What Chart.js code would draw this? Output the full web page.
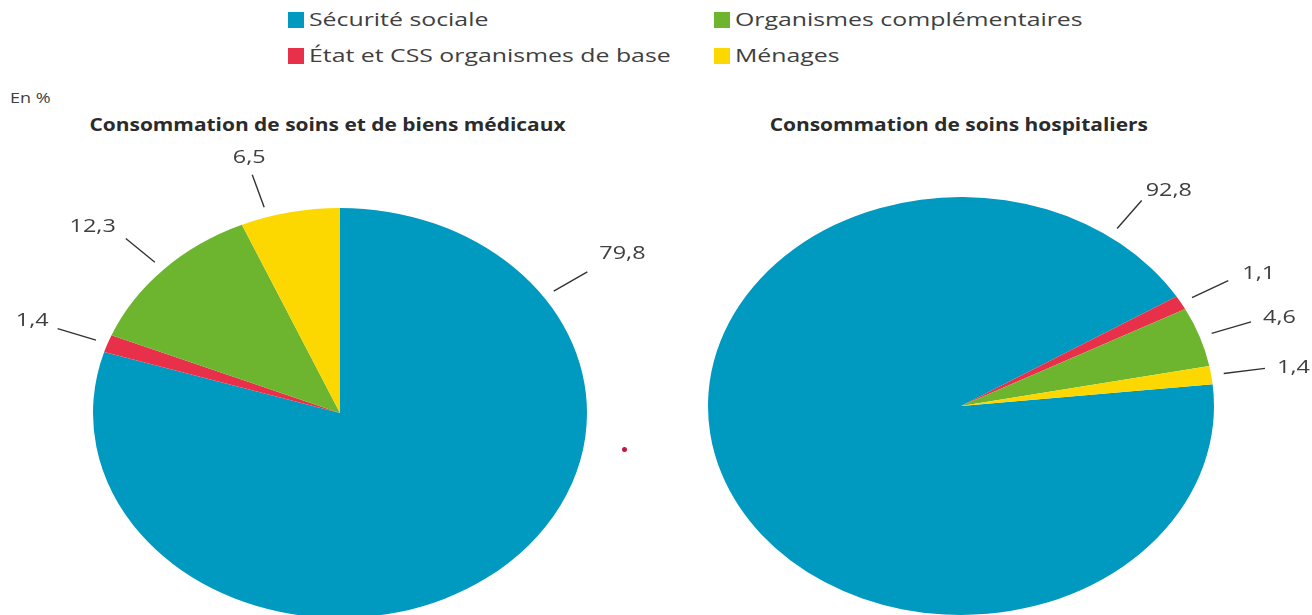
<!DOCTYPE html>
<html lang="fr">
<head>
<meta charset="utf-8">
<script src="https://cdn.jsdelivr.net/npm/chart.js@4.4.1/dist/chart.umd.min.js"></script>
<style>
  html, body { margin: 0; padding: 0; background: #fff; }
  #page { position: relative; width: 1312px; height: 615px; overflow: hidden; font-family: "Open Sans", sans-serif; color: #404040; }
  .leg { position: absolute; font-size: 18px; line-height: 22px; white-space: nowrap; }
  .leg i { display: inline-block; width: 16px; height: 16px; vertical-align: -2px; margin-right: 5px; }
  .leg span { display: inline-block; transform: scaleX(1.38); transform-origin: left center; }
  .unit { position: absolute; left: 10px; top: 87px; font-size: 15px; transform: scaleX(1.2); transform-origin: left center; }
  .title { position: absolute; top: 113px; font-size: 17px; font-weight: 700; color: #2b2b2b; text-align: center; }
  .title span { display: inline-block; transform: scaleX(1.23); transform-origin: center; }
  canvas { position: absolute; top: 0; }
  .dot { position: absolute; left: 622px; top: 447px; width: 5px; height: 5px; border-radius: 50%; background: #c21840; }
</style>
</head>
<body>
<div id="page">
  <div class="leg" style="left:288px; top:8px"><i style="background:#0099c0"></i><span>Sécurité sociale</span></div>
  <div class="leg" style="left:288px; top:44px"><i style="background:#e8304a"></i><span>État et CSS organismes de base</span></div>
  <div class="leg" style="left:714px; top:8px"><i style="background:#6db52e"></i><span>Organismes complémentaires</span></div>
  <div class="leg" style="left:714px; top:44px"><i style="background:#fdd800"></i><span>Ménages</span></div>
  <div class="unit">En %</div>
  <div class="title" style="left:0; width:656px"><span>Consommation de soins et de biens médicaux</span></div>
  <div class="title" style="left:656px; width:606px"><span>Consommation de soins hospitaliers</span></div>
  <canvas id="csbm" width="656" height="630" style="left:0"></canvas>
  <canvas id="hosp" width="656" height="630" style="left:656px"></canvas>
  <div class="dot"></div>
</div>
<script>
// data (en %)
const categories = ['Sécurité sociale', 'État et CSS organismes de base', 'Organismes complémentaires', 'Ménages'];
const csbmValues = [79.8, 1.4, 12.3, 6.5];
const hospValues = [92.8, 1.1, 4.6, 1.4];
const colors = ['#0099c0', '#e8304a', '#6db52e', '#fdd800'];

const fmt = v => String(v).replace('.', ',');

// pies are drawn wider than tall, so stretch the arcs around their centre
const stretchPlugin = {
  id: 'stretch',
  beforeDatasetsDraw(chart, args, opts) {
    const arc = chart.getDatasetMeta(0).data[0];
    const ctx = chart.ctx;
    ctx.save();
    ctx.translate(arc.x, arc.y);
    ctx.scale(opts.sx, 1);
    ctx.translate(-arc.x, -arc.y);
  },
  afterDatasetsDraw(chart) {
    chart.ctx.restore();
  }
};

// value labels with short leader lines
const leaderPlugin = {
  id: 'leaders',
  afterDraw(chart, args, opts) {
    const ctx = chart.ctx;
    const meta = chart.getDatasetMeta(0);
    const vals = chart.data.datasets[0].data;
    ctx.save();
    ctx.strokeStyle = '#333';
    ctx.lineWidth = 1.4;
    ctx.fillStyle = '#404040';
    ctx.font = '18px "Open Sans", sans-serif';
    ctx.textBaseline = 'middle';
    meta.data.forEach((arc, i) => {
      const lay = opts.layout[i];
      const a = lay.angle != null ? (lay.angle - 90) * Math.PI / 180 : (arc.startAngle + arc.endAngle) / 2;
      const rx = arc.outerRadius * opts.sx, ry = arc.outerRadius;
      const pt = r => [arc.x + Math.cos(a) * rx * r, arc.y + Math.sin(a) * ry * r];
      const [x1, y1] = pt(1.05);
      const [x2, y2] = pt(1.215);
      ctx.beginPath();
      ctx.moveTo(x1, y1);
      ctx.lineTo(x2, y2);
      ctx.stroke();
      ctx.save();
      ctx.translate(x2 + lay.dx, y2 + lay.dy);
      ctx.scale(1.3, 1);
      ctx.textAlign = lay.align;
      ctx.fillText(fmt(vals[i]), 0, 0);
      ctx.restore();
    });
    ctx.restore();
  }
};

function makePie(id, values, rotation, padding, sx, layout) {
  return new Chart(document.getElementById(id), {
    type: 'pie',
    data: {
      labels: categories,
      datasets: [{ data: values, backgroundColor: colors, borderWidth: 0 }]
    },
    options: {
      responsive: false,
      animation: false,
      rotation: rotation,
      layout: { padding: padding },
      plugins: {
        legend: { display: false },
        tooltip: { enabled: false },
        stretch: { sx: sx },
        leaders: { sx: sx, layout: layout }
      },
      events: []
    },
    plugins: [stretchPlugin, leaderPlugin]
  });
}

makePie('csbm', csbmValues, 0, { left: 135, right: 111, top: 208, bottom: 12 }, 247 / 205, [
  { angle: 55.5, dx: 12, dy: -18, align: 'left' },
  { dx: -9, dy: -8, align: 'right' },
  { dx: -10, dy: -12, align: 'right' },
  { angle: -17, dx: -3, dy: -17, align: 'center' }
]);

makePie('hosp', hospValues, 84, { left: 96, right: 142, top: 197, bottom: 15 }, 253 / 209, [
  { angle: 36, dx: 4, dy: -10, align: 'left' },
  { dx: 14, dy: -7, align: 'left' },
  { dx: 12, dy: -4, align: 'left' },
  { dx: 12, dy: 0, align: 'left' }
]);
</script>
</body>
</html>
